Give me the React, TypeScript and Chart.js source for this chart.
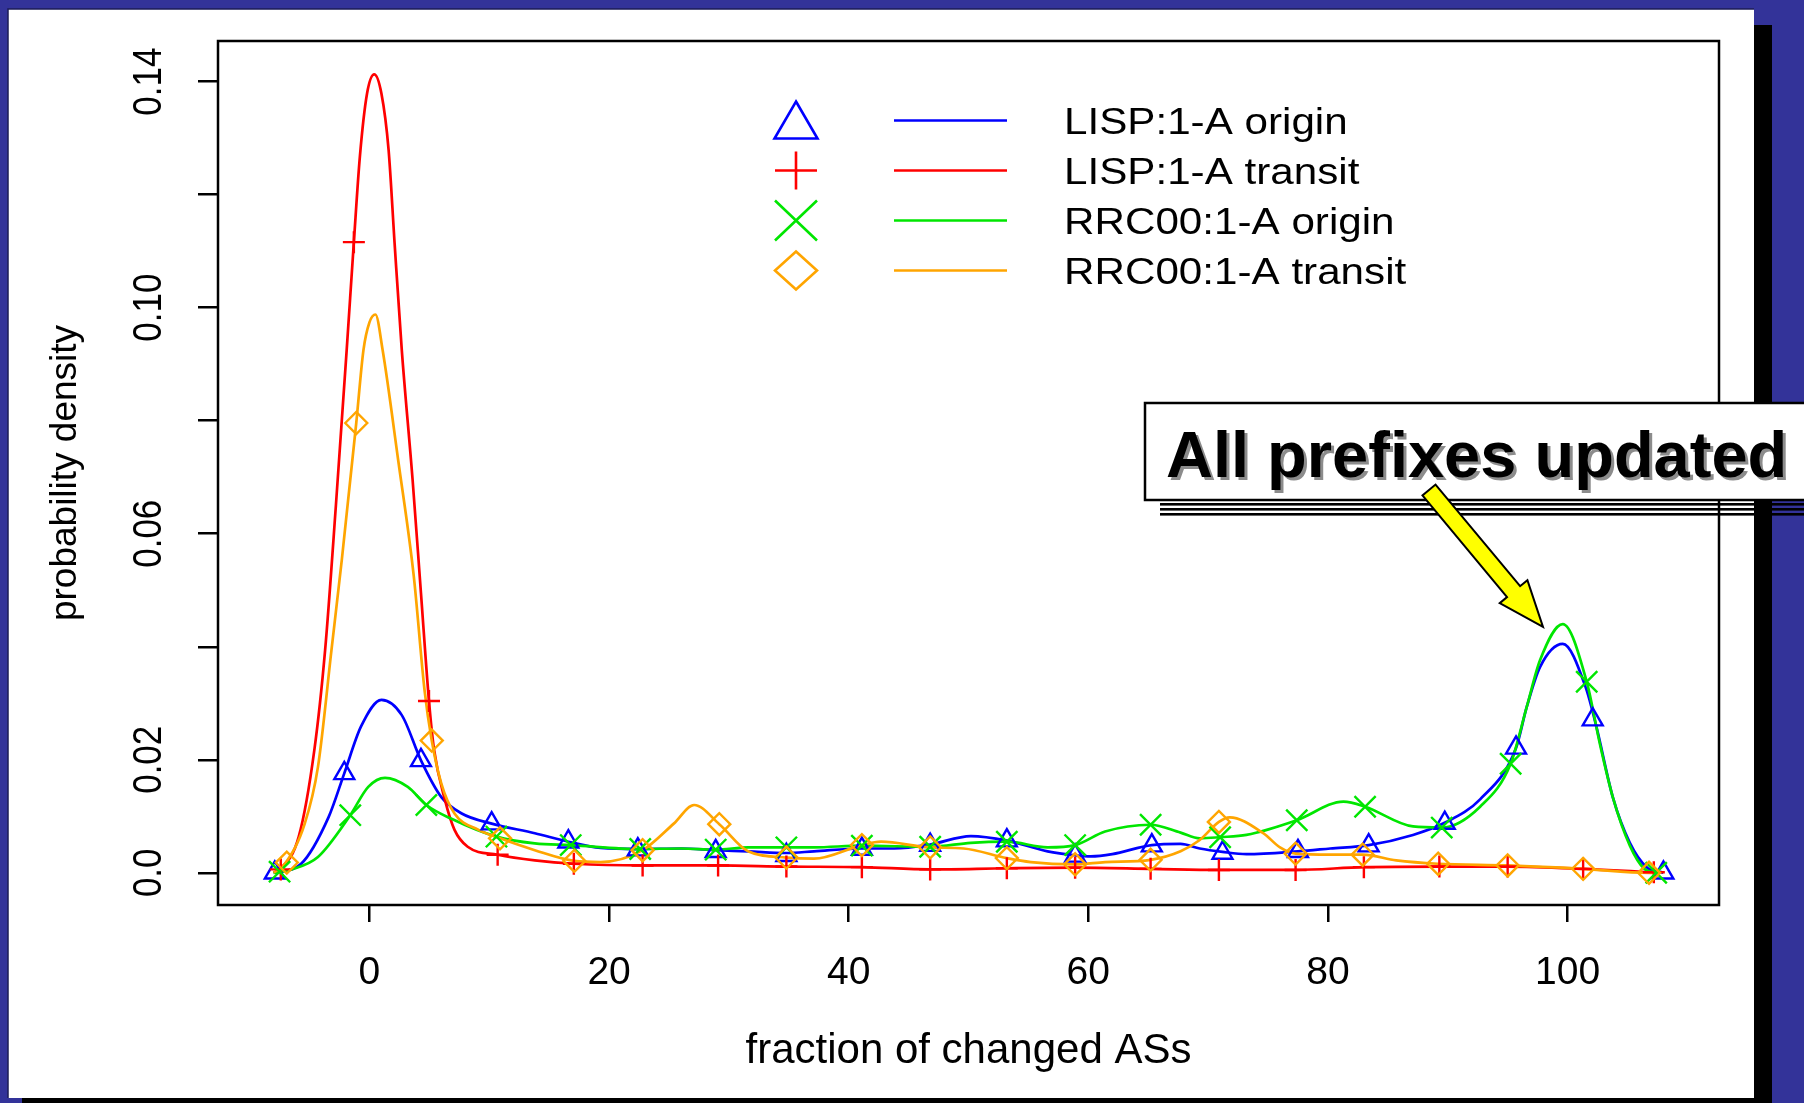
import React, { useEffect, useRef } from 'react';
import { Chart, registerables } from 'chart.js';

Chart.register(...registerables);

const W = 1804;
const H = 1103;
const FONT = '"Liberation Sans", Arial, Helvetica, sans-serif';

// ---------- series names / colours ----------
const seriesNames = ['LISP:1-A origin', 'LISP:1-A transit', 'RRC00:1-A origin', 'RRC00:1-A transit'];
const seriesColors = ['#0000ff', '#ff0000', '#00e600', '#ffa500'];

// ---------- density curves (x = fraction of changed ASs, y = density) ----------
const lispOriginX = [-8.0, -5.7, -3.4, -2.1, -0.7, 1.0, 2.7, 4.3, 6.0, 7.7, 10.2, 13.8, 16.6, 19.3, 22.4, 26.0, 28.9, 31.6, 34.8, 37.1, 41.1, 43.8, 46.8, 50.2, 53.2, 56.6, 58.9, 60.2, 62.0, 65.3, 67.7, 69.3, 71.2, 73.2, 77.5, 80.2, 83.4, 87.1, 89.7, 92.7, 95.7, 96.6, 97.7, 99.6, 101.5, 102.4, 103.8, 105.2, 106.6, 108.0];
const lispOriginY = [0.0, 0.0016, 0.0099, 0.0176, 0.0259, 0.0306, 0.0279, 0.0199, 0.0134, 0.0105, 0.0087, 0.0070, 0.0055, 0.0044, 0.0042, 0.0043, 0.0040, 0.0038, 0.0035, 0.0038, 0.0043, 0.0043, 0.0050, 0.0065, 0.0057, 0.0038, 0.0031, 0.0029, 0.0033, 0.0049, 0.0051, 0.0043, 0.0037, 0.0033, 0.0038, 0.0043, 0.0049, 0.0067, 0.0088, 0.0130, 0.0221, 0.0294, 0.0364, 0.0405, 0.0329, 0.0259, 0.0132, 0.0053, 0.0010, 0.0];

const lispTransitX = [-8.0, -7.6, -5.9, -4.6, -3.7, -2.8, -1.9, -1.3, -0.8, -0.2, 0.4, 1.0, 1.6, 2.1, 2.7, 3.6, 4.3, 4.97, 5.4, 6.3, 7.1, 8.2, 10.7, 13.8, 17.1, 22.8, 29.1, 34.8, 41.1, 46.8, 53.2, 58.9, 65.2, 70.9, 77.3, 83.0, 89.3, 95.0, 101.3, 106.8, 107.5];
const lispTransitY = [0.0, 0.0004, 0.0064, 0.0217, 0.0394, 0.0650, 0.0925, 0.1116, 0.1267, 0.1379, 0.1413, 0.1379, 0.1279, 0.1114, 0.0925, 0.0696, 0.0495, 0.0304, 0.0217, 0.0129, 0.0076, 0.0046, 0.0032, 0.0022, 0.0016, 0.0013, 0.0013, 0.0011, 0.0010, 0.0006, 0.0008, 0.0009, 0.0007, 0.0005, 0.0005, 0.0010, 0.0011, 0.0011, 0.0007, 0.0001, 0.0];

const rrcOriginX = [-8.0, -7.5, -6.5, -4.3, -1.6, -0.1, 1.3, 3.2, 4.75, 6.8, 10.6, 13.8, 16.8, 22.6, 26.0, 28.9, 31.6, 34.8, 37.1, 41.1, 46.8, 50.2, 53.2, 56.6, 58.9, 61.4, 65.2, 67.7, 69.3, 71.0, 73.2, 77.4, 81.3, 83.1, 87.1, 89.5, 92.7, 95.25, 96.6, 97.7, 99.6, 101.6, 102.7, 103.8, 105.2, 106.4, 107.4];
const rrcOriginY = [0.0, 0.0001, 0.0006, 0.0028, 0.0102, 0.0152, 0.0168, 0.0152, 0.0120, 0.0096, 0.0064, 0.0052, 0.0049, 0.0042, 0.0043, 0.0041, 0.0045, 0.0045, 0.0045, 0.0048, 0.0046, 0.0053, 0.0055, 0.0045, 0.0049, 0.0073, 0.0085, 0.0071, 0.0061, 0.0063, 0.0067, 0.0093, 0.0126, 0.0117, 0.0082, 0.0080, 0.0117, 0.0193, 0.0294, 0.0376, 0.0440, 0.0338, 0.0228, 0.0132, 0.0048, 0.0007, 0.0];

const rrcTransitX = [-8.0, -7.06, -5.4, -4.3, -3.17, -2.3, -1.1, -0.5, 0.0, 0.5, 1.1, 2.4, 3.7, 4.6, 5.2, 6.0, 7.1, 9.1, 10.9, 13.8, 17.1, 19.3, 22.8, 25.4, 27.1, 29.2, 31.6, 34.8, 37.1, 41.1, 42.7, 46.8, 49.6, 53.2, 55.2, 58.9, 61.4, 65.2, 67.7, 69.3, 70.9, 71.8, 74.6, 76.0, 77.3, 80.2, 82.9, 85.7, 89.2, 95.0, 101.3, 106.8, 107.5];
const rrcTransitY = [0.0, 0.0016, 0.0087, 0.0187, 0.0394, 0.0555, 0.0796, 0.0925, 0.0974, 0.0988, 0.0925, 0.0730, 0.0525, 0.0323, 0.0234, 0.0158, 0.0105, 0.0076, 0.0061, 0.0040, 0.0021, 0.0019, 0.0040, 0.0087, 0.0120, 0.0086, 0.0038, 0.0027, 0.0025, 0.0049, 0.0055, 0.0045, 0.0043, 0.0026, 0.0019, 0.0015, 0.0019, 0.0023, 0.0038, 0.0058, 0.0090, 0.0098, 0.0070, 0.0045, 0.0034, 0.0032, 0.0032, 0.0022, 0.0016, 0.0013, 0.0007, 0.0, 0.0];

// ---------- plotted symbols ----------
const lispOriginMarkX = [-7.9, -2.1, 4.3, 10.2, 16.6, 22.4, 28.9, 34.8, 41.1, 46.8, 53.2, 58.9, 65.3, 71.2, 77.5, 83.4, 89.75, 95.7, 102.1, 108.0];
const lispOriginMarkY = [0.0, 0.0176, 0.0199, 0.0087, 0.0055, 0.0041, 0.0038, 0.0031, 0.0042, 0.0049, 0.0057, 0.0030, 0.0048, 0.0035, 0.0038, 0.0048, 0.0088, 0.0221, 0.0271, 0.0];

const lispTransitMarkX = [-7.4, -1.3, 4.97, 10.7, 17.06, 22.8, 29.1, 34.8, 41.1, 46.8, 53.2, 58.9, 65.2, 70.9, 77.3, 83.0, 89.3, 95.0, 101.3, 107.2];
const lispTransitMarkY = [0.0006, 0.1116, 0.0304, 0.0032, 0.0016, 0.0013, 0.0013, 0.0011, 0.0010, 0.0006, 0.0008, 0.0009, 0.0007, 0.0005, 0.0005, 0.0010, 0.0011, 0.0011, 0.0007, 0.0001];

const rrcOriginMarkX = [-7.5, -1.6, 4.75, 10.6, 16.8, 22.6, 28.9, 34.8, 41.1, 46.8, 53.2, 58.9, 65.2, 71.0, 77.4, 83.1, 89.5, 95.25, 101.6, 107.4];
const rrcOriginMarkY = [0.0002, 0.0102, 0.0120, 0.0064, 0.0049, 0.0042, 0.0041, 0.0045, 0.0048, 0.0046, 0.0055, 0.0049, 0.0085, 0.0063, 0.0093, 0.0117, 0.0080, 0.0193, 0.0338, 0.0];

const rrcTransitMarkX = [-6.9, -1.1, 5.2, 10.9, 17.1, 22.8, 29.2, 34.8, 41.1, 46.8, 53.2, 58.9, 65.2, 70.9, 77.3, 82.9, 89.2, 95.0, 101.3, 106.8];
const rrcTransitMarkY = [0.0018, 0.0796, 0.0234, 0.0061, 0.0021, 0.0040, 0.0086, 0.0027, 0.0049, 0.0045, 0.0026, 0.0015, 0.0023, 0.0090, 0.0034, 0.0032, 0.0016, 0.0013, 0.0007, 0.0];

// ---------- axes ----------
const xMin = -12.64;
const xMax = 112.64;
const yMin = -0.0057;
const yMax = 0.1472;
const xTickStep = 20;
const yTickStep = 0.02;
const yTickText = ['0.0', '0.02', '', '0.06', '', '0.10', '', '0.14'];
const xTitle = 'fraction of changed ASs';
const yTitle = 'probability density';
const annotationText = 'All prefixes updated';

function zip(xs: number[], ys: number[]) {
  return xs.map((x, i) => ({ x, y: ys[i] }));
}

type Sym = 'triangle' | 'plus' | 'cross' | 'diamond';
const legendSymbols: Sym[] = ['triangle', 'plus', 'cross', 'diamond'];

function drawSym(ctx: CanvasRenderingContext2D, s: Sym, x: number, y: number, color: string) {
  ctx.save();
  ctx.strokeStyle = color;
  ctx.lineWidth = 2.6;
  ctx.beginPath();
  if (s === 'triangle') {
    ctx.moveTo(x, y - 19);
    ctx.lineTo(x + 21.5, y + 18);
    ctx.lineTo(x - 21.5, y + 18);
    ctx.closePath();
  } else if (s === 'plus') {
    ctx.moveTo(x - 21, y);
    ctx.lineTo(x + 21, y);
    ctx.moveTo(x, y - 19);
    ctx.lineTo(x, y + 19);
  } else if (s === 'cross') {
    ctx.moveTo(x - 21, y - 20);
    ctx.lineTo(x + 21, y + 20);
    ctx.moveTo(x + 21, y - 20);
    ctx.lineTo(x - 21, y + 20);
  } else {
    ctx.moveTo(x, y - 19);
    ctx.lineTo(x + 21, y);
    ctx.lineTo(x, y + 19);
    ctx.lineTo(x - 21, y);
    ctx.closePath();
  }
  ctx.stroke();
  ctx.restore();
}

const decorPlugin = {
  id: 'decor',
  beforeDraw(chart: any) {
    const ctx: CanvasRenderingContext2D = chart.ctx;
    ctx.save();
    ctx.fillStyle = '#333399';
    ctx.fillRect(0, 0, W, H);
    ctx.fillStyle = '#000000';
    ctx.fillRect(1754, 25, 18, H - 25);
    ctx.fillRect(22, 1098, 1750, H - 1098);
    ctx.fillStyle = '#ffffff';
    ctx.fillRect(8, 9, 1746, 1089);
    ctx.strokeStyle = '#1c1c55';
    ctx.lineWidth = 1.5;
    ctx.beginPath();
    ctx.moveTo(8, 1098);
    ctx.lineTo(8, 9);
    ctx.lineTo(1754, 9);
    ctx.stroke();
    ctx.restore();
  },
  afterDatasetsDraw(chart: any) {
    const ctx: CanvasRenderingContext2D = chart.ctx;
    const a = chart.chartArea;
    ctx.save();
    ctx.strokeStyle = '#000';
    ctx.lineWidth = 2.5;
    ctx.strokeRect(a.left, a.top, a.right - a.left, a.bottom - a.top);
    ctx.restore();
  },
  afterDraw(chart: any) {
    const ctx: CanvasRenderingContext2D = chart.ctx;
    const ys = chart.scales.y;
    // y tick labels, rotated like R
    ctx.save();
    ctx.fillStyle = '#000';
    ctx.font = `35px ${FONT}`;
    ctx.textAlign = 'center';
    ctx.textBaseline = 'middle';
    ys.ticks.forEach((t: any) => {
      const lbl = t.label;
      if (!lbl) return;
      const py = ys.getPixelForValue(t.value);
      ctx.save();
      ctx.translate(150, py);
      ctx.rotate(-Math.PI / 2);
      ctx.scale(1, 1.15);
      ctx.fillText(String(lbl), 0, 0);
      ctx.restore();
    });
    ctx.restore();

    // legend
    const rows = [120.5, 170.5, 220.5, 270.5];
    ctx.save();
    seriesNames.forEach((name, i) => {
      const y = rows[i];
      drawSym(ctx, legendSymbols[i], 796, y, seriesColors[i]);
      ctx.strokeStyle = seriesColors[i];
      ctx.lineWidth = 2.6;
      ctx.beginPath();
      ctx.moveTo(894, y);
      ctx.lineTo(1007, y);
      ctx.stroke();
      ctx.save();
      ctx.translate(1064, y + 3);
      ctx.scale(1.14, 1.02);
      ctx.fillStyle = '#000';
      ctx.font = `37px ${FONT}`;
      ctx.textAlign = 'left';
      ctx.textBaseline = 'middle';
      ctx.fillText(name, 0, 0);
      ctx.restore();
    });
    ctx.restore();

    // annotation box
    ctx.save();
    ctx.fillStyle = '#ffffff';
    ctx.fillRect(1145, 403, 720, 97);
    ctx.strokeStyle = '#000';
    ctx.lineWidth = 2.5;
    ctx.strokeRect(1145, 403, 720, 97);
    // stripes under the box
    ctx.fillStyle = '#000';
    [503, 508, 513].forEach((yy) => ctx.fillRect(1160, yy, W - 1160, 2.6));
    // text with shadow
    ctx.font = `bold 65px ${FONT}`;
    ctx.textAlign = 'left';
    ctx.textBaseline = 'alphabetic';
    ctx.shadowColor = 'rgba(140,140,140,1)';
    ctx.shadowOffsetX = 3;
    ctx.shadowOffsetY = 3;
    ctx.shadowBlur = 0;
    ctx.fillStyle = '#000';
    ctx.fillText(annotationText, 1166, 477);
    ctx.restore();

    // arrow
    const T = { x: 1429, y: 490 };
    const P = { x: 1543, y: 627 };
    const dx = P.x - T.x;
    const dy = P.y - T.y;
    const len = Math.hypot(dx, dy);
    const ux = dx / len, uy = dy / len;
    const nx = -uy, ny = ux;
    const sw = 8.5, hw = 18, hl = 46;
    const Hx = P.x - ux * hl, Hy = P.y - uy * hl;
    ctx.save();
    ctx.beginPath();
    ctx.moveTo(T.x + nx * sw, T.y + ny * sw);
    ctx.lineTo(Hx + nx * sw, Hy + ny * sw);
    ctx.lineTo(Hx + nx * hw, Hy + ny * hw);
    ctx.lineTo(P.x, P.y);
    ctx.lineTo(Hx - nx * hw, Hy - ny * hw);
    ctx.lineTo(Hx - nx * sw, Hy - ny * sw);
    ctx.lineTo(T.x - nx * sw, T.y - ny * sw);
    ctx.closePath();
    ctx.fillStyle = '#ffff00';
    ctx.fill();
    ctx.strokeStyle = '#000';
    ctx.lineWidth = 2;
    ctx.lineJoin = 'miter';
    ctx.stroke();
    ctx.restore();
  },
};

const curves = [
  { xs: lispOriginX, ys: lispOriginY, order: 8 },
  { xs: lispTransitX, ys: lispTransitY, order: 7 },
  { xs: rrcOriginX, ys: rrcOriginY, order: 6 },
  { xs: rrcTransitX, ys: rrcTransitY, order: 5 },
];
const markers = [
  { xs: lispOriginMarkX, ys: lispOriginMarkY, style: 'triangle', r: 11.5, order: 4 },
  { xs: lispTransitMarkX, ys: lispTransitMarkY, style: 'cross', r: 11, order: 3 },
  { xs: rrcOriginMarkX, ys: rrcOriginMarkY, style: 'crossRot', r: 15, order: 2 },
  { xs: rrcTransitMarkX, ys: rrcTransitMarkY, style: 'rectRot', r: 11, order: 1 },
];

export default function App() {
  const ref = useRef<HTMLCanvasElement>(null);
  useEffect(() => {
    const canvas = ref.current;
    if (!canvas) return;
    const datasets: any[] = [];
    curves.forEach((c, i) => {
      datasets.push({
        type: 'line',
        label: seriesNames[i],
        data: zip(c.xs, c.ys),
        borderColor: seriesColors[i],
        backgroundColor: seriesColors[i],
        borderWidth: 2.7,
        pointRadius: 0,
        pointHoverRadius: 0,
        cubicInterpolationMode: 'monotone',
        fill: false,
        order: c.order,
      });
    });
    markers.forEach((m, i) => {
      datasets.push({
        type: 'line',
        label: seriesNames[i] + ' symbols',
        data: zip(m.xs, m.ys),
        showLine: false,
        pointStyle: m.style,
        pointRadius: m.r,
        pointHoverRadius: m.r,
        pointBorderWidth: 2.4,
        pointBorderColor: seriesColors[i],
        pointBackgroundColor: 'rgba(0,0,0,0)',
        borderColor: seriesColors[i],
        backgroundColor: 'rgba(0,0,0,0)',
        order: m.order,
      });
    });

    const chart = new Chart(canvas, {
      type: 'line',
      data: { datasets },
      plugins: [decorPlugin as any],
      options: {
        responsive: false,
        animation: false,
        devicePixelRatio: 1,
        events: [],
        layout: { padding: { top: 41, right: 85, bottom: 0, left: 0 } },
        plugins: { legend: { display: false }, tooltip: { enabled: false } },
        scales: {
          x: {
            type: 'linear',
            min: xMin,
            max: xMax,
            afterFit: (s: any) => { s.height = 198; },
            border: { display: false },
            grid: { drawOnChartArea: false, drawTicks: true, tickLength: 17, color: '#000', lineWidth: 2.5, tickWidth: 2.5 },
            ticks: {
              stepSize: xTickStep,
              includeBounds: false,
              autoSkip: false,
              maxRotation: 0,
              minRotation: 0,
              padding: 28,
              color: '#000',
              font: { family: FONT, size: 39 },
              callback: (v: any) => String(Math.round(Number(v))),
            },
            title: { display: true, text: xTitle, color: '#000', font: { family: FONT, size: 42 }, padding: { top: 0, bottom: 26 } },
          },
          y: {
            type: 'linear',
            min: yMin,
            max: yMax,
            afterFit: (s: any) => { s.width = 218; },
            border: { display: false },
            grid: { drawOnChartArea: false, drawTicks: true, tickLength: 20, color: '#000', lineWidth: 2.5, tickWidth: 2.5 },
            ticks: {
              stepSize: yTickStep,
              includeBounds: false,
              autoSkip: false,
              display: false,
              callback: (v: any) => {
                const k = Math.round(Number(v) / yTickStep);
                return yTickText[k] ?? '';
              },
            },
            title: { display: true, text: yTitle, color: '#000', font: { family: FONT, size: 37 }, padding: { top: 44, bottom: 0 } },
          },
        },
      } as any,
    });
    return () => chart.destroy();
  }, []);
  return (
    <div style={{ position: 'absolute', left: 0, top: 0, width: W, height: H }}>
      <canvas ref={ref} width={W} height={H} style={{ display: 'block' }} />
    </div>
  );
}
